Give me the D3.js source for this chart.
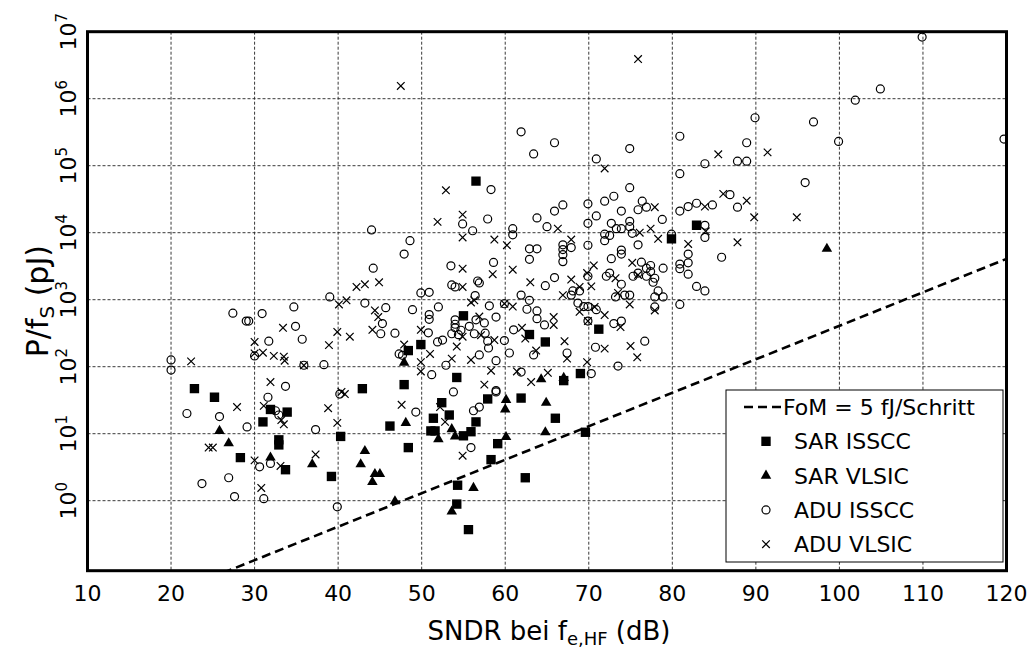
<!DOCTYPE html>
<html>
<head>
<meta charset="utf-8">
<script src="https://cdn.jsdelivr.net/npm/d3@7"></script>
<style>
  body { margin: 0; background: #fff; }
  text { font-family: "DejaVu Sans", sans-serif; fill: #000; }
</style>
</head>
<body>
<svg id="chart" width="1031" height="650"></svg>
<script>
// SNDR (dB), P/fs (pJ)
const sarIsscc = [
  [22.8, 47], [25.2, 35], [31.0, 15], [31.9, 23], [33.9, 21], [32.9, 8.1], [32.9, 6.8],
  [28.3, 4.4], [33.7, 2.9], [39.2, 2.3], [40.3, 9.1], [42.9, 47], [47.9, 54], [48.4, 174],
  [49.9, 214], [46.2, 13], [48.4, 6.2], [51.4, 17], [52.4, 29], [53.3, 19], [51.1, 11],
  [51.6, 11], [55.0, 9.3], [55.9, 10.7], [56.5, 15], [57.9, 33], [61.9, 34], [54.2, 69],
  [55.0, 575], [56.5, 58900], [62.9, 302], [64.8, 234], [59.1, 7.1], [58.3, 4.1], [62.4, 2.2],
  [54.3, 1.7], [54.2, 0.89], [55.6, 0.37], [66.0, 17], [67.0, 62], [69.0, 79], [69.6, 10.5],
  [71.2, 363], [79.9, 8100], [82.9, 12900]
];
const sarVlsic = [
  [25.8, 11], [26.9, 7.2], [31.9, 4.4], [36.9, 3.5], [43.2, 5.5], [42.7, 3.5], [44.4, 2.5],
  [45.0, 2.5], [44.1, 1.9], [46.8, 0.98], [47.9, 115], [48.1, 14.5], [52.0, 8.3], [53.6, 11.7],
  [54.0, 9.1], [56.2, 1.55], [53.6, 0.69], [60.1, 32], [60.0, 23], [64.9, 29], [60.1, 8.9],
  [64.8, 10.5], [64.3, 65], [67.0, 68], [98.5, 5750]
];
const aduIsscc = [
  [61.9, 3.2e5], [63.4, 1.5e5], [58.3, 4.4e4], [65.9, 2.2e5], [70.9, 1.26e5], [74.9, 1.8e5],
  [80.9, 2.75e5], [80.9, 7.6e4], [83.9, 1.07e5], [87.8, 1.17e5], [88.9, 1.17e5], [88.9, 2.2e5],
  [89.9, 5.2e5], [74.9, 4.7e4], [65.9, 2.1e4], [66.9, 2.6e4], [69.9, 2.7e4], [71.9, 2.95e4],
  [73.0, 3.5e4], [73.9, 2.1e4], [76.4, 2.95e4], [75.9, 2.2e4], [76.9, 2.4e4], [80.9, 2.1e4],
  [81.9, 2.45e4], [82.9, 2.75e4], [84.8, 2.6e4], [86.9, 3.7e4], [87.8, 2.4e4], [109.9, 8.3e6],
  [104.9, 1.4e6], [101.9, 9.5e5], [96.9, 4.5e5], [99.9, 2.3e5], [119.7, 2.5e5], [95.9, 5.6e4],
  [20, 126], [20, 89], [27.4, 630], [29.0, 480], [29.3, 480], [30.9, 620], [34.7, 780],
  [34.9, 400], [35.7, 257], [31.7, 240], [30.0, 145], [35.9, 105], [33.7, 51],
  [44.0, 1.1e4], [54.9, 1.35e4], [57.9, 1.6e4], [56.1, 1.07e4], [60.9, 1.15e4], [60.9, 9300],
  [63.8, 1.66e4], [65.0, 1.23e4], [48.6, 7600], [47.9, 4800], [44.2, 2950], [39.0, 1100],
  [43.2, 890], [45.7, 760], [45.3, 440], [45.1, 310], [38.3, 107], [46.8, 316], [47.3, 155],
  [47.7, 148], [48.9, 710], [49.9, 1260], [50.9, 1290], [50.9, 600], [50.9, 510], [52.0, 780],
  [50.8, 320], [51.2, 76], [51.9, 234], [52.5, 250], [53.6, 310], [54.0, 500], [54.0, 430],
  [54.0, 380], [52.9, 105], [54.4, 300], [54.7, 350], [55.7, 400], [56.9, 150], [56.4, 1150],
  [56.5, 500], [57.5, 450], [56.3, 310], [57.6, 316], [57.9, 240], [58.0, 190], [59.9, 245],
  [58.9, 123], [58.9, 44], [53.6, 1660], [54.0, 1550], [56.7, 1900], [56.9, 1780], [58.6, 3600],
  [53.5, 3200], [58.1, 810], [58.9, 550], [59.9, 870], [61.9, 1170], [62.9, 980], [63.8, 680],
  [63.8, 520], [64.7, 420], [64.8, 1620], [62.9, 4000], [62.9, 5750], [63.8, 5750], [62.6, 720],
  [61.0, 355], [63.4, 150], [60.5, 160], [61.9, 83],
  [70.9, 1.78e4], [69.9, 1.38e4], [72.7, 1.38e4], [73.3, 1.15e4], [73.9, 1.15e4], [74.9, 1.48e4],
  [74.9, 1.23e4], [75.2, 9800], [66.9, 6600], [66.9, 5600], [66.9, 4700], [66.9, 3700],
  [67.9, 6000], [71.9, 9500], [71.9, 7600], [72.5, 9100], [69.9, 6500], [75.9, 6600],
  [78.8, 1.58e4], [79.9, 9500], [83.9, 1.29e4], [83.9, 8500], [85.9, 4300], [81.9, 4800],
  [81.9, 3550], [80.9, 3400], [80.9, 2900], [81.9, 2400], [82.9, 1580], [83.9, 1350], [80.9, 850],
  [73.9, 5500], [73.9, 4800], [72.7, 4100], [65.9, 2140], [69.9, 2240], [72.1, 2240], [72.5, 2500],
  [73.9, 1700], [75.3, 2240], [75.9, 2500], [76.3, 3630], [76.9, 2950], [76.9, 2240], [77.4, 3240],
  [77.4, 2630], [78.9, 2950], [77.9, 2090], [77.7, 1820], [78.3, 1350], [77.9, 1100], [78.9, 1100],
  [77.9, 780], [74.9, 1170], [74.3, 1170], [73.2, 1100], [68.1, 1350], [68.9, 1350], [67.9, 1170],
  [68.7, 890], [69.4, 790], [69.9, 790], [70.9, 710], [69.9, 480], [73.9, 480], [73.0, 440],
  [70.8, 195], [76.7, 240], [67.4, 160], [73.5, 102], [70.3, 79],
  [21.9, 20], [25.8, 18], [29.1, 12.6], [31.6, 35], [32.5, 22], [32.9, 19], [37.3, 11.5],
  [31.9, 3.6], [30.6, 3.2], [26.9, 2.2], [23.7, 1.8], [27.6, 1.15], [31.1, 1.07],
  [40.2, 39], [49.3, 21], [39.9, 0.81], [53.8, 42], [56.2, 22], [56.9, 25], [58.9, 42], [55.9, 6.2]
];
const aduVlsic = [
  [47.5, 1.55e6], [52.9, 4.3e4], [75.9, 3.9e6], [71.9, 9.1e4], [85.5, 1.48e5], [91.4, 1.58e5],
  [77.9, 2.4e4], [83.9, 2.45e4], [86.1, 3.8e4], [88.9, 3.0e4], [94.9, 1.7e4],
  [22.4, 120], [33.4, 380], [30.0, 234], [30.0, 158], [31.0, 162], [32.3, 145], [33.5, 141],
  [33.6, 123], [35.9, 105], [31.9, 59],
  [51.9, 1.45e4], [54.9, 1.86e4], [54.9, 8500], [58.7, 7900], [60.2, 6500], [42.2, 1550],
  [43.2, 1700], [44.9, 1820], [40.1, 850], [41.0, 980], [44.4, 690], [44.8, 550], [44.1, 355],
  [39.9, 330], [41.4, 280], [38.9, 210], [47.9, 214], [40.4, 42], [49.9, 355], [51.0, 155],
  [49.9, 117], [49.9, 85], [53.6, 132], [54.2, 200], [54.9, 280], [55.9, 126], [56.3, 980],
  [55.9, 910], [56.9, 560], [57.1, 295], [58.7, 250], [58.3, 87], [57.5, 54], [54.9, 1550],
  [58.5, 2400], [54.9, 2900], [59.9, 870], [60.9, 790], [60.9, 2800], [63.0, 1820], [62.0, 380],
  [62.4, 263], [63.7, 174], [61.4, 85], [63.1, 59], [65.1, 81],
  [66.3, 1.15e4], [67.9, 7900], [76.1, 1.0e4], [77.4, 1.15e4], [78.3, 8100], [84.0, 1.05e4],
  [81.9, 6800], [87.8, 7200], [89.8, 1.7e4], [70.6, 3240], [67.9, 2000], [69.8, 2500],
  [70.3, 1580], [73.2, 2090], [75.2, 3550], [75.9, 2340], [77.9, 690], [73.5, 1260], [74.9, 850],
  [66.9, 1170], [68.9, 1550], [68.9, 660], [70.7, 780], [71.9, 590], [69.9, 480], [73.8, 390],
  [65.8, 550], [65.8, 420], [67.1, 240], [71.9, 186], [75.0, 204], [75.8, 138], [67.4, 132],
  [69.8, 117],
  [27.9, 25], [24.5, 6.2], [25.0, 6.2], [31.1, 26], [33.5, 13.8], [33.2, 16], [30.0, 4.0],
  [33.1, 3.3], [37.3, 4.9], [30.8, 1.55],
  [40.8, 39], [38.8, 24], [39.9, 14.5], [47.6, 27], [52.2, 25], [52.8, 15], [54.9, 4.7]
];
// FoM = 5 fJ/Schritt reference line, end points
const fomLine = [[20, 0.041], [120, 4070]];

const xTicks = [10, 20, 30, 40, 50, 60, 70, 80, 90, 100, 110, 120];
const yTicks = [0, 1, 2, 3, 4, 5, 6, 7]; // exponents
const legendLabels = ["FoM = 5 fJ/Schritt", "SAR ISSCC", "SAR VLSIC", "ADU ISSCC", "ADU VLSIC"];

const pLeft = 87.5, pRight = 1006.5, pTop = 31.7, pBottom = 570.7;
const svg = d3.select("#chart");

const x = d3.scaleLinear().domain([10, 120]).range([pLeft, pRight]);
const y = d3.scaleLog().domain([Math.pow(10, -1.045), 1e7]).range([pBottom, pTop]);

svg.append("defs").append("clipPath").attr("id", "clip")
  .append("rect")
  .attr("x", pLeft).attr("y", pTop)
  .attr("width", pRight - pLeft).attr("height", pBottom - pTop);

// grid
svg.append("g")
  .selectAll("line")
  .data(xTicks.slice(1, -1))
  .join("line")
  .attr("x1", d => x(d)).attr("x2", d => x(d))
  .attr("y1", pTop).attr("y2", pBottom)
  .style("stroke", "#222").style("stroke-width", 0.9)
  .style("stroke-dasharray", "3,2");
svg.append("g")
  .selectAll("line")
  .data(yTicks.slice(0, -1))
  .join("line")
  .attr("x1", pLeft).attr("x2", pRight)
  .attr("y1", d => y(Math.pow(10, d))).attr("y2", d => y(Math.pow(10, d)))
  .style("stroke", "#222").style("stroke-width", 0.9)
  .style("stroke-dasharray", "3,2");

const plot = svg.append("g").attr("clip-path", "url(#clip)");

// FoM line
plot.append("path")
  .datum(fomLine)
  .attr("d", d3.line().x(d => x(d[0])).y(d => y(d[1])))
  .style("fill", "none")
  .style("stroke", "black")
  .style("stroke-width", 2.6)
  .style("stroke-dasharray", "9,5");

const squarePath = d3.symbol().type(d3.symbolSquare).size(88)();
const trianglePath = d3.symbol().type(d3.symbolTriangle).size(48)();
const crossPath = "M-3.8,-3.8L3.8,3.8M-3.8,3.8L3.8,-3.8";

function drawCircles(g, data) {
  g.selectAll(null)
    .data(data)
    .join("circle")
    .attr("cx", d => x(d[0]))
    .attr("cy", d => y(d[1]))
    .attr("r", 4)
    .style("fill", "none")
    .style("stroke", "black")
    .style("stroke-width", 1.2);
}
function drawPaths(g, data, p, filled) {
  g.selectAll(null)
    .data(data)
    .join("path")
    .attr("d", p)
    .attr("transform", d => "translate(" + x(d[0]) + "," + y(d[1]) + ")")
    .style("fill", filled ? "black" : "none")
    .style("stroke", "black")
    .style("stroke-width", filled ? 0 : 1.2);
}

drawCircles(plot.append("g"), aduIsscc);
drawPaths(plot.append("g"), aduVlsic, crossPath, false);
drawPaths(plot.append("g"), sarIsscc, squarePath, true);
drawPaths(plot.append("g"), sarVlsic, trianglePath, true);

// frame
svg.append("rect")
  .attr("x", pLeft).attr("y", pTop)
  .attr("width", pRight - pLeft).attr("height", pBottom - pTop)
  .style("fill", "none").style("stroke", "black").style("stroke-width", 3);

// x tick labels
svg.append("g")
  .selectAll("text")
  .data(xTicks)
  .join("text")
  .attr("x", d => x(d))
  .attr("y", 601)
  .attr("text-anchor", "middle")
  .style("font-size", "22px")
  .text(d => d);

// y tick labels (rotated)
const yl = svg.append("g")
  .selectAll("text")
  .data(yTicks)
  .join("text")
  .attr("transform", d => "translate(76," + y(Math.pow(10, d)) + ") rotate(-90)")
  .attr("text-anchor", "middle")
  .style("font-size", "22px");
yl.append("tspan").text("10");
yl.append("tspan").attr("dy", -9).style("font-size", "15px").text(d => d);

// axis titles
const xt = svg.append("text")
  .attr("x", 549).attr("y", 640)
  .attr("text-anchor", "middle")
  .style("font-size", "26px");
xt.append("tspan").text("SNDR bei f");
xt.append("tspan").attr("dy", 5).style("font-size", "18px").text("e,HF");
xt.append("tspan").attr("dy", -5).text(" (dB)");

const yt = svg.append("text")
  .attr("transform", "translate(48," + ((pTop + pBottom) / 2) + ") rotate(-90)")
  .attr("text-anchor", "middle")
  .style("font-size", "30px");
yt.append("tspan").text("P/f");
yt.append("tspan").attr("dy", 6).style("font-size", "20px").text("S");
yt.append("tspan").attr("dy", -6).text(" (pJ)");

// legend
const lg = svg.append("g");
lg.append("rect")
  .attr("x", 726).attr("y", 390).attr("width", 277).attr("height", 172)
  .style("fill", "white").style("stroke", "black").style("stroke-width", 1);
const rowY = i => 407 + i * 34.3;
lg.append("line")
  .attr("x1", 744).attr("x2", 781).attr("y1", rowY(0)).attr("y2", rowY(0))
  .style("stroke", "black").style("stroke-width", 2.6).style("stroke-dasharray", "9,5");
lg.append("path").attr("d", squarePath)
  .attr("transform", "translate(766," + rowY(1) + ")").style("fill", "black");
lg.append("path").attr("d", trianglePath)
  .attr("transform", "translate(766," + rowY(2) + ")").style("fill", "black");
lg.append("circle").attr("cx", 766).attr("cy", rowY(3)).attr("r", 4)
  .style("fill", "none").style("stroke", "black").style("stroke-width", 1.2);
lg.append("path").attr("d", crossPath)
  .attr("transform", "translate(766," + rowY(4) + ")")
  .style("fill", "none").style("stroke", "black").style("stroke-width", 1.2);
lg.selectAll("text")
  .data(legendLabels)
  .join("text")
  .attr("x", (d, i) => i === 0 ? 783 : 794)
  .attr("y", (d, i) => rowY(i) + 8)
  .style("font-size", "22px")
  .text(d => d);
</script>
</body>
</html>
